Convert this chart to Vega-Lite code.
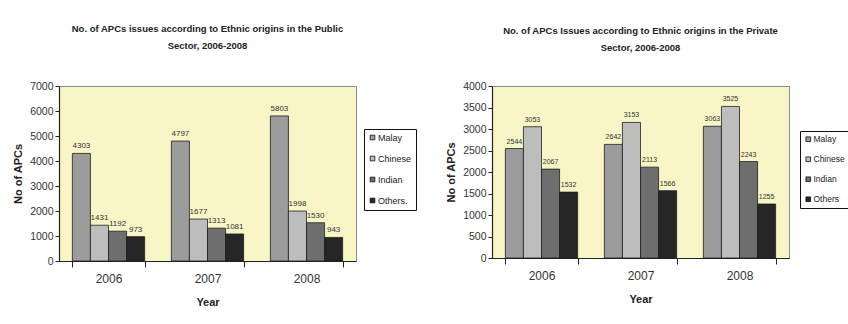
{
  "$schema": "https://vega.github.io/schema/vega-lite/v6.json",
  "background": "white",
  "padding": {"left": 12, "top": 23, "right": 0, "bottom": 0},
  "datasets": {
    "public": [
      {"year": "2006", "ethnic": "Malay", "value": 4303},
      {"year": "2006", "ethnic": "Chinese", "value": 1431},
      {"year": "2006", "ethnic": "Indian", "value": 1192},
      {"year": "2006", "ethnic": "Others", "value": 973},
      {"year": "2007", "ethnic": "Malay", "value": 4797},
      {"year": "2007", "ethnic": "Chinese", "value": 1677},
      {"year": "2007", "ethnic": "Indian", "value": 1313},
      {"year": "2007", "ethnic": "Others", "value": 1081},
      {"year": "2008", "ethnic": "Malay", "value": 5803},
      {"year": "2008", "ethnic": "Chinese", "value": 1998},
      {"year": "2008", "ethnic": "Indian", "value": 1530},
      {"year": "2008", "ethnic": "Others", "value": 943}
    ],
    "private": [
      {"year": "2006", "ethnic": "Malay", "value": 2544},
      {"year": "2006", "ethnic": "Chinese", "value": 3053},
      {"year": "2006", "ethnic": "Indian", "value": 2067},
      {"year": "2006", "ethnic": "Others", "value": 1532},
      {"year": "2007", "ethnic": "Malay", "value": 2642},
      {"year": "2007", "ethnic": "Chinese", "value": 3153},
      {"year": "2007", "ethnic": "Indian", "value": 2113},
      {"year": "2007", "ethnic": "Others", "value": 1566},
      {"year": "2008", "ethnic": "Malay", "value": 3063},
      {"year": "2008", "ethnic": "Chinese", "value": 3525},
      {"year": "2008", "ethnic": "Indian", "value": 2243},
      {"year": "2008", "ethnic": "Others", "value": 1255}
    ]
  },
  "spacing": 28,
  "resolve": {"scale": {"y": "independent", "fill": "independent"}, "legend": {"fill": "independent"}},
  "hconcat": [
    {
      "width": 297,
      "height": 175,
      "data": {"name": "public"},
      "title": {
        "text": ["No. of APCs issues according to Ethnic origins in the Public", "Sector,  2006-2008"],
        "offset": 31
      },
      "encoding": {
        "x": {
          "field": "year", "type": "nominal",
          "scale": {"paddingInner": 0.27, "paddingOuter": 0.135},
          "axis": {"title": "Year", "labelAngle": 0}
        },
        "xOffset": {"field": "ethnic", "type": "nominal", "sort": ["Malay", "Chinese", "Indian", "Others"]},
        "y": {
          "field": "value", "type": "quantitative",
          "scale": {"domain": [0, 7000]},
          "axis": {"title": "No of APCs", "format": "d", "values": [0, 1000, 2000, 3000, 4000, 5000, 6000, 7000]}
        }
      },
      "layer": [
        {
          "mark": {"type": "bar", "stroke": "#1e1e1e", "strokeWidth": 0.8},
          "encoding": {
            "fill": {
              "field": "ethnic", "type": "nominal",
              "scale": {"domain": ["Malay", "Chinese", "Indian", "Others"], "range": ["#9c9c9c", "#bdbdbd", "#6e6e6e", "#262626"]},
              "legend": {
                "orient": "none", "legendX": 305, "legendY": 43, "labelFontSize": 9,
                "labelExpr": "datum.label == 'Others' ? 'Others.' : datum.label"
              }
            }
          }
        },
        {
          "mark": {"type": "text", "dy": -7, "fontSize": 8, "color": "#333"},
          "encoding": {"text": {"field": "value", "type": "quantitative", "format": "d"}}
        }
      ]
    },
    {
      "width": 297,
      "height": 172,
      "data": {"name": "private"},
      "title": {
        "text": ["No. of APCs Issues according to Ethnic origins in the Private", "Sector, 2006-2008"],
        "offset": 29
      },
      "encoding": {
        "x": {
          "field": "year", "type": "nominal",
          "scale": {"paddingInner": 0.27, "paddingOuter": 0.135},
          "axis": {"title": "Year", "labelAngle": 0}
        },
        "xOffset": {"field": "ethnic", "type": "nominal", "sort": ["Malay", "Chinese", "Indian", "Others"]},
        "y": {
          "field": "value", "type": "quantitative",
          "scale": {"domain": [0, 4000]},
          "axis": {"title": "No of APCs", "format": "d", "values": [0, 500, 1000, 1500, 2000, 2500, 3000, 3500, 4000]}
        }
      },
      "layer": [
        {
          "mark": {"type": "bar", "stroke": "#1e1e1e", "strokeWidth": 0.8},
          "encoding": {
            "fill": {
              "field": "ethnic", "type": "nominal",
              "scale": {"domain": ["Malay", "Chinese", "Indian", "Others"], "range": ["#9c9c9c", "#bdbdbd", "#6e6e6e", "#262626"]},
              "legend": {"orient": "none", "legendX": 308, "legendY": 45, "labelFontSize": 8.5}
            }
          }
        },
        {
          "mark": {"type": "text", "dy": -7, "fontSize": 7, "color": "#333"},
          "encoding": {"text": {"field": "value", "type": "quantitative", "format": "d"}}
        }
      ]
    }
  ],
  "config": {
    "font": "Liberation Sans",
    "view": {"fill": "#f8f6c6", "stroke": "#8a8a8a", "strokeWidth": 1},
    "title": {
      "font": "Liberation Sans",
      "fontSize": 9.5,
      "fontWeight": "bold",
      "color": "#222",
      "anchor": "middle",
      "lineHeight": 17
    },
    "axis": {
      "grid": false,
      "domainColor": "#222",
      "domainWidth": 1.2,
      "tickColor": "#222",
      "tickSize": 4,
      "labelFont": "Liberation Sans",
      "labelColor": "#333",
      "titleFont": "Liberation Sans",
      "titleFontWeight": "bold",
      "titleColor": "#222",
      "titleFontSize": 11
    },
    "axisX": {"tickBand": "extent", "tickSize": 6, "labelFontSize": 12, "labelPadding": 6, "titlePadding": 12},
    "axisY": {"labelFontSize": 10.5, "titlePadding": 6},
    "legend": {
      "title": null,
      "strokeColor": "#111",
      "padding": 4,
      "symbolType": "square",
      "symbolSize": 22,
      "symbolStrokeColor": "#111",
      "symbolStrokeWidth": 0.8,
      "labelFont": "Liberation Sans",
      "labelFontSize": 9.5,
      "labelColor": "#222",
      "rowPadding": 11,
      "labelOffset": 1
    }
  }
}
